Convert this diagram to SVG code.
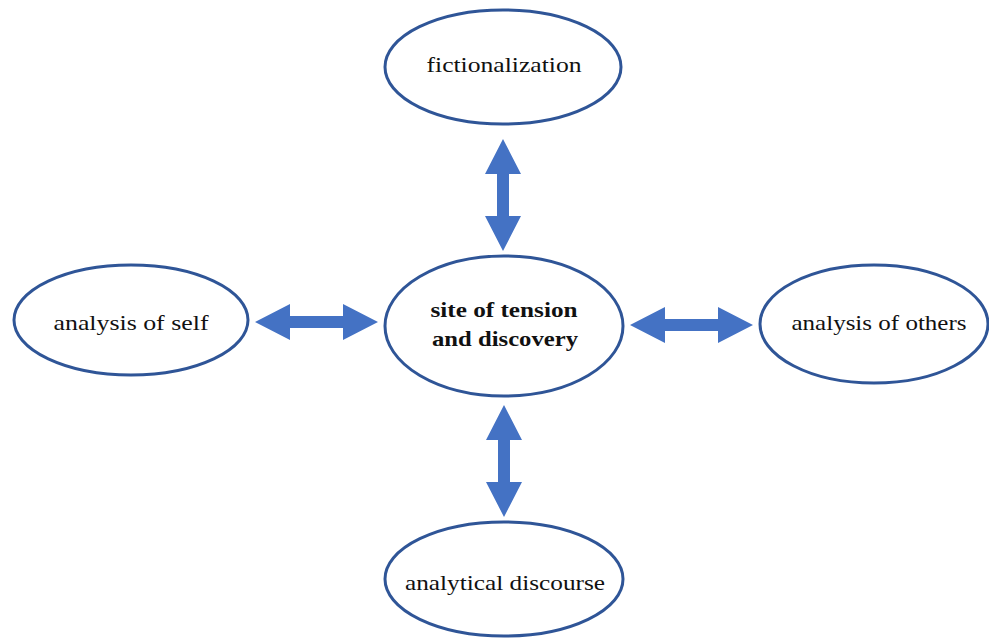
<svg xmlns="http://www.w3.org/2000/svg" width="989" height="638" viewBox="0 0 989 638">
<style>
.node ellipse{fill:#fff;stroke:#2F5597;stroke-width:3}
.node text{font-family:"Liberation Serif","Times New Roman",serif;font-size:21px;fill:#111;text-anchor:middle}
.node text.b{font-weight:bold}
.arr{fill:#4472C4}
</style>
<rect width="989" height="638" fill="#fff"/>
<g id="connectors">
<path class="arr" d="M503,139 L521,174 L509,174 L509,216 L521,216 L503,251 L485,216 L497,216 L497,174 L485,174 Z"/>
<path class="arr" d="M504,405 L522,440 L510,440 L510,482 L522,482 L504,517 L486,482 L498,482 L498,440 L486,440 Z"/>
<path class="arr" d="M255,322 L290,304 L290,316 L343,316 L343,304 L378,322 L343,340 L343,328 L290,328 L290,340 Z"/>
<path class="arr" d="M630,325 L665,307 L665,319 L718,319 L718,307 L753,325 L718,343 L718,331 L665,331 L665,343 Z"/>
</g>
<g id="fictionalization" class="node">
<ellipse cx="503" cy="67" rx="118" ry="57"/>
<text x="504" y="72" textLength="155" lengthAdjust="spacingAndGlyphs">fictionalization</text>
</g>
<g id="self" class="node">
<ellipse cx="131" cy="320" rx="117" ry="55"/>
<text x="131" y="330" textLength="155" lengthAdjust="spacingAndGlyphs">analysis of self</text>
</g>
<g id="center" class="node">
<ellipse cx="504" cy="326" rx="119" ry="70"/>
<text class="b" x="504" y="317" textLength="147" lengthAdjust="spacingAndGlyphs">site of tension</text>
<text class="b" x="505" y="346" textLength="146" lengthAdjust="spacingAndGlyphs">and discovery</text>
</g>
<g id="others" class="node">
<ellipse cx="874" cy="324" rx="114" ry="59"/>
<text x="879" y="330" textLength="175" lengthAdjust="spacingAndGlyphs">analysis of others</text>
</g>
<g id="discourse" class="node">
<ellipse cx="504" cy="579" rx="119" ry="57"/>
<text x="505" y="590" textLength="200" lengthAdjust="spacingAndGlyphs">analytical discourse</text>
</g>
</svg>
